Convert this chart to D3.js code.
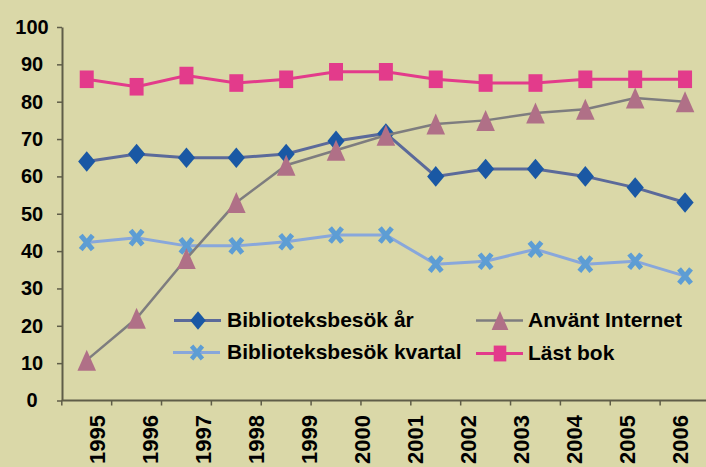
<!DOCTYPE html>
<html>
<head>
<meta charset="utf-8">
<script src="https://cdn.jsdelivr.net/npm/d3@7"></script>
<style>
  body { margin: 0; background: #dad8a8; }
  svg { display: block; font-family: "Liberation Sans", Arial, sans-serif; font-weight: bold; }
</style>
</head>
<body>
<script>
var yearLabels = ["1995", "1996", "1997", "1998", "1999", "2000", "2001", "2002", "2003", "2004", "2005", "2006"];
var obs = d3.range(13);
var yTicks = [0, 10, 20, 30, 40, 50, 60, 70, 80, 90, 100];

var besokAr = [64, 66, 65, 65, 66, 69.5, 71.5, 60, 62, 62, 60, 57, 53];
var besokKvartal = [42.3, 43.6, 41.4, 41.4, 42.5, 44.3, 44.3, 36.5, 37.3, 40.5, 36.5, 37.3, 33.3];
var internet = [10.8, 22, 38, 53, 63, 67, 71, 74, 75, 77, 78, 81, 80];
var lastBok = [86, 84, 87, 85, 86, 88, 88, 86, 85, 85, 86, 86, 86];

var seriesNames = ["Biblioteksbesök år", "Biblioteksbesök kvartal", "Använt Internet", "Läst bok"];

function init() {
  var w = 706, h = 467;

  var svg = d3.select("body").append("svg")
      .attr("width", w)
      .attr("height", h);

  svg.append("rect").attr("width", w).attr("height", h).attr("fill", "#dad8a8");

  // scales
  var x = d3.scaleBand()
      .domain(obs)
      .range([61.8, 61.8 + 13 * 49.86]);
  var xLab = d3.scalePoint()
      .domain(yearLabels)
      .range([97, 680]);
  var y = d3.scaleLinear()
      .domain([0, 100])
      .range([400.5, 27]);

  var axisCol = "#5f5d48";

  // y axis
  var yAxis = svg.append("g")
      .attr("transform", "translate(62,0)")
      .call(d3.axisLeft(y).tickValues(yTicks).tickSize(5).tickSizeOuter(0));
  yAxis.select(".domain").attr("stroke", axisCol).attr("stroke-width", 2);
  yAxis.selectAll(".tick line").attr("stroke", axisCol).attr("stroke-width", 1.5);
  yAxis.selectAll(".tick text")
      .attr("x", -30)
      .attr("text-anchor", "middle")
      .attr("fill", "#000")
      .style("font-size", "20px")
      .style("font-weight", "bold")
      .style("font-family", "'Liberation Sans', Arial, sans-serif");

  // x axis: line with ticks at band edges
  var x0 = x.range()[0];
  svg.append("line")
      .attr("x1", x0).attr("x2", w)
      .attr("y1", y(0)).attr("y2", y(0))
      .attr("stroke", axisCol).attr("stroke-width", 2);
  svg.append("g").selectAll("line")
      .data(obs)
      .enter()
      .append("line")
      .attr("x1", function(d) { return x(d); })
      .attr("x2", function(d) { return x(d); })
      .attr("y1", y(0))
      .attr("y2", y(0) + 5)
      .attr("stroke", axisCol)
      .attr("stroke-width", 1.5);

  svg.append("g").selectAll("text")
      .data(yearLabels)
      .enter()
      .append("text")
      .attr("transform", function(d) { return "translate(" + xLab(d) + ",415) rotate(-90)"; })
      .attr("text-anchor", "end")
      .attr("dy", "0.35em")
      .style("font-size", "22px")
      .text(function(d) { return d; });

  // marker shapes
  var shapes = {
    diamond: "M0,-10.3L8.6,0L0,10.3L-8.6,0Z",
    square: "M-7,-8.8H7V8.8H-7Z",
    triangle: "M0,-10.5L9.3,10.5L-9.3,10.5Z",
    cross: "M-6,-7.2L6,7.2M6,-7.2L-6,7.2"
  };

  var series = [
    { name: seriesNames[0], values: besokAr, line: "#5b6a9a", lw: 3, fill: "#1a58a4", shape: "diamond" },
    { name: seriesNames[1], values: besokKvartal, line: "#88a7db", lw: 3, fill: "#5d9dd4", shape: "cross" },
    { name: seriesNames[2], values: internet, line: "#7e7d7f", lw: 2.5, fill: "#b07087", shape: "triangle" },
    { name: seriesNames[3], values: lastBok, line: "#e33b8b", lw: 3, fill: "#e33b8b", shape: "square" }
  ];

  var line = d3.line()
      .x(function(d, i) { return x(i) + x.bandwidth() / 2; })
      .y(function(d) { return y(d); });

  function drawMarker(sel, s) {
    if (s.shape === "cross") {
      sel.attr("d", shapes.cross)
        .attr("fill", "none")
        .attr("stroke", s.fill)
        .attr("stroke-width", 5);
    } else {
      sel.attr("d", shapes[s.shape]).attr("fill", s.fill);
    }
  }

  series.forEach(function(s) {
    var g = svg.append("g");
    g.append("path")
        .datum(s.values)
        .attr("d", line)
        .attr("fill", "none")
        .attr("stroke", s.line)
        .attr("stroke-width", s.lw);
    g.selectAll("path.m")
        .data(s.values)
        .enter()
        .append("path")
        .attr("class", "m")
        .attr("transform", function(d, i) {
          return "translate(" + (x(i) + x.bandwidth() / 2) + "," + y(d) + ")";
        })
        .call(drawMarker, s);
  });

  // legend
  var legPos = [
    { lx: 174, ty: 320.5, tx: 227 },
    { lx: 173, ty: 352.5, tx: 227 },
    { lx: 476, ty: 320.5, tx: 528 },
    { lx: 476, ty: 353.5, tx: 528 }
  ];
  series.forEach(function(s, i) {
    var p = legPos[i];
    var g = svg.append("g");
    g.append("line")
        .attr("x1", p.lx).attr("x2", p.lx + 47)
        .attr("y1", p.ty).attr("y2", p.ty)
        .attr("stroke", s.line)
        .attr("stroke-width", s.lw);
    g.append("path")
        .attr("transform", "translate(" + (p.lx + 24) + "," + p.ty + ") scale(0.9)")
        .call(drawMarker, s);
    g.append("text")
        .attr("x", p.tx)
        .attr("y", p.ty + 6.5)
        .style("font-size", "21px")
        .text(s.name);
  });
}
window.onload = init;
</script>
</body>
</html>
